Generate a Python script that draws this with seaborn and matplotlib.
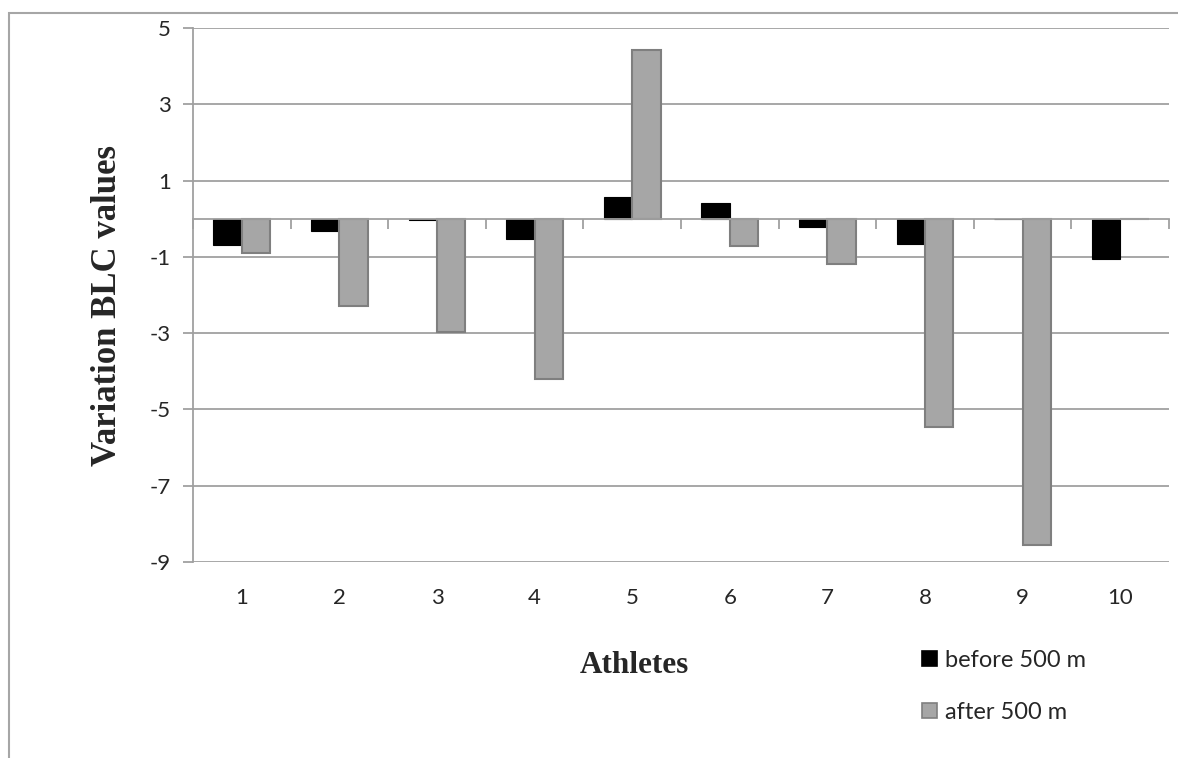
import pandas as pd
import matplotlib.pyplot as plt
import seaborn as sns
from matplotlib.patches import Rectangle

athletes = ["1", "2", "3", "4", "5", "6", "7", "8", "9", "10"]
before_500 = [-0.68, -0.31, -0.03, -0.53, 0.57, 0.41, -0.22, -0.65, 0.0, -1.05]
after_500 = [-0.90, -2.30, -2.98, -4.19, 4.42, -0.71, -1.20, -5.45, -8.56, 0.0]
series = ["before 500 m", "after 500 m"]
y_ticks = [5, 3, 1, -1, -3, -5, -7, -9]

data = pd.DataFrame({
    "Athletes": athletes * 2,
    "Variation BLC values": before_500 + after_500,
    "Series": [series[0]] * len(athletes) + [series[1]] * len(athletes),
})

sns.set_style("white")
plt.rcParams["font.family"] = ["Lato", "DejaVu Sans"]

grid_col = "#a0a0a0"
bar_cols = ["#000000", "#a6a6a6"]
edge_cols = ["#000000", "#7f7f7f"]

fig = plt.figure(figsize=(11.78, 7.58), dpi=100)
ax = fig.add_axes([193 / 1178, 1 - 562 / 758, 976 / 1178, 534 / 758])

sns.barplot(data=data, x="Athletes", y="Variation BLC values", hue="Series",
            palette=bar_cols, width=0.584, ax=ax, zorder=3)

for cont, ec, lw in zip(ax.containers, edge_cols, [0.8, 1.5]):
    for p in cont:
        p.set_edgecolor(ec)
        p.set_linewidth(lw)

ax.set_ylim(min(y_ticks), max(y_ticks))
ax.set_xlim(-0.5, len(athletes) - 0.5)
ax.set_yticks(y_ticks)
ax.set_yticklabels([str(v) for v in y_ticks], fontsize=16)
ax.yaxis.grid(True, color=grid_col, lw=1.3)
ax.set_axisbelow(True)
ax.tick_params(axis="y", direction="out", length=7, width=1.3, color=grid_col, left=True, pad=9)

# category axis crossing at zero, ticks between categories
for s in ["top", "right"]:
    ax.spines[s].set_visible(False)
ax.spines["left"].set_color(grid_col)
ax.spines["left"].set_linewidth(1.3)
ax.spines["bottom"].set_position(("data", 0))
ax.spines["bottom"].set_color(grid_col)
ax.spines["bottom"].set_linewidth(1.3)
ax.spines["bottom"].set_zorder(4)
ax.set_xticks([i - 0.5 for i in range(len(athletes) + 1)])
ax.set_xticklabels([])
ax.tick_params(axis="x", direction="out", length=7, width=1.3, color=grid_col, bottom=True)

sec = ax.secondary_xaxis("bottom")
sec.set_xticks(range(len(athletes)))
sec.set_xticklabels(athletes, fontsize=16)
sec.tick_params(length=0, pad=19)
sec.spines["bottom"].set_visible(False)

ax.set_xlabel("Athletes", fontsize=22.5, fontweight="bold", family=["Liberation Serif"])
ax.xaxis.set_label_coords(0.452, -0.193)
ax.xaxis.label.set_va("center")
ax.set_ylabel("Variation BLC values", fontsize=25, fontweight="bold", family=["Liberation Serif"])
ax.yaxis.set_label_coords(-0.088, 0.481)
ax.yaxis.label.set_va("center")

handles, labels = ax.get_legend_handles_labels()
for h, c, ec in zip(handles, bar_cols, edge_cols):
    h.set_facecolor(c)
    h.set_edgecolor(ec)
    h.set_linewidth(1.2)
ax.get_legend().remove()
fig.legend(handles, labels, loc="upper left", bbox_to_anchor=(922 / 1178, 1 - 650 / 758),
           frameon=False, fontsize=17, handlelength=0.62, handleheight=0.62,
           handletextpad=0.35, labelspacing=1.3, borderpad=0, borderaxespad=0)

fig.patches.append(Rectangle((9 / 1178, -0.1), 1.2, 1.1 - 13 / 758, transform=fig.transFigure,
                             fill=False, edgecolor="#a6a6a6", lw=1.5))

fig.savefig("out.png", dpi=100)
